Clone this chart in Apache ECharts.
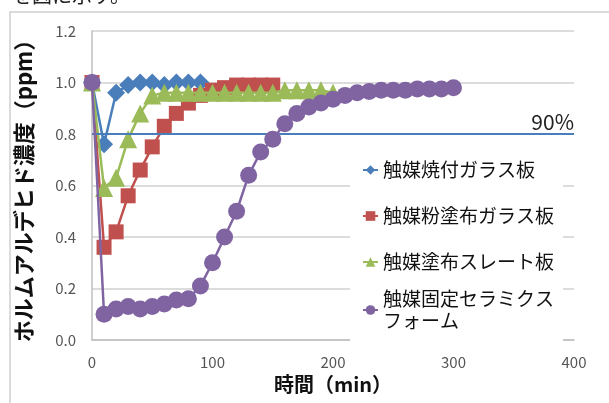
<!DOCTYPE html>
<html><head><meta charset="utf-8">
<script src="https://cdn.jsdelivr.net/npm/echarts@6/dist/echarts.min.js"></script>
<style>html,body{margin:0;padding:0;background:#fff}#c{width:609px;height:403px}</style>
</head><body><div id="c"></div>
<script>
// ---- data ----
const seriesNames = ['触媒焼付ガラス板','触媒粉塗布ガラス板','触媒塗布スレート板','触媒固定セラミクスフォーム'];
const blueMin = [0,10,20,30,40,50,60,70,80,90];
const blueVal = [1.00,0.76,0.96,0.99,1.00,1.00,0.99,1.00,1.00,1.00];
const redMin = [0,10,20,30,40,50,60,70,80,90,100,110,120,130,140,150];
const redVal = [1.00,0.36,0.42,0.56,0.66,0.75,0.83,0.88,0.92,0.95,0.97,0.98,0.99,0.99,0.99,0.99];
const greenMin = [0,10,20,30,40,50,60,70,80,90,100,110,120,130,140,150,160,170,180,190,200];
const greenVal = [1.00,0.59,0.63,0.78,0.88,0.95,0.96,0.96,0.96,0.96,0.96,0.96,0.96,0.96,0.96,0.96,0.97,0.97,0.97,0.97,0.96];
const purpleMin = [0,10,20,30,40,50,60,70,80,90,100,110,120,130,140,150,160,170,180,190,200,210,220,230,240,250,260,270,280,290,300];
const purpleVal = [1.00,0.10,0.12,0.13,0.12,0.13,0.14,0.155,0.16,0.21,0.30,0.40,0.50,0.64,0.73,0.78,0.84,0.88,0.905,0.92,0.935,0.95,0.96,0.965,0.97,0.97,0.97,0.975,0.975,0.975,0.98];
const thresholdValue = 0.8;
const thresholdLabel = '90%';
const xTicks = [0,100,200,300,400];
const yTicks = [0,0.2,0.4,0.6,0.8,1.0,1.2];
const xName = '時間（min）';
const yName = 'ホルムアルデヒド濃度（ppm）';
const topText = 'を図に示す。';

const zip = (a,b) => a.map((v,i)=>[v,b[i]]);
const colors = ['#4a7ebb','#c0504d','#9bbb59','#8064a2'];
const symbols = ['diamond','rect','triangle','circle'];
const sizes = [18,15,18,17];
const datas = [zip(blueMin,blueVal), zip(redMin,redVal), zip(greenMin,greenVal), zip(purpleMin,purpleVal)];
const FONT = '"Noto Sans CJK JP", "Noto Sans", sans-serif';

const series = seriesNames.map((n,i)=>({
  name:n, type:'line', data:datas[i], symbol:symbols[i], symbolSize:sizes[i],
  color:colors[i], lineStyle:{width:2.5,color:colors[i]}, itemStyle:{color:colors[i]},
  z: 2+i, animation:false
}));
series.push({
  name:'threshold', type:'line', data:[], animation:false,
  markLine:{symbol:'none', silent:true, lineStyle:{color:'#4a7ebb', width:2, type:'solid'},
    label:{show:true, position:'insideEndTop', formatter:thresholdLabel, color:'#222', fontSize:21, fontFamily:FONT, distance:[0,1]},
    data:[{yAxis:thresholdValue}]}
});

const legendText = {fontSize:19, color:'#111', fontFamily:FONT, lineHeight:22};
const chart = echarts.init(document.getElementById('c'));
chart.setOption({
  animation:false,
  textStyle:{fontFamily:FONT},
  grid:{left:92, right:35, top:31, bottom:63},
  xAxis:{type:'value', min:xTicks[0], max:xTicks[xTicks.length-1], interval:100,
    name:xName, nameLocation:'middle', nameGap:33,
    nameTextStyle:{fontSize:20, fontWeight:'bold', color:'#111', fontFamily:FONT},
    axisLine:{show:true, lineStyle:{color:'#bfbfbf', width:1.5}}, axisTick:{show:false},
    axisLabel:{color:'#555', fontSize:15, margin:15, fontFamily:FONT},
    splitLine:{show:false}},
  yAxis:{type:'value', min:yTicks[0], max:yTicks[yTicks.length-1], interval:0.2,
    name:yName, nameLocation:'middle', nameGap:57,
    nameTextStyle:{fontSize:22, fontWeight:'bold', color:'#111', fontFamily:FONT},
    axisLine:{show:true, lineStyle:{color:'#bfbfbf', width:1.5}}, axisTick:{show:false},
    axisLabel:{color:'#555', fontSize:15, margin:16, fontFamily:FONT, formatter:v=>v.toFixed(1)},
    splitLine:{show:true, lineStyle:{color:'#d0d0d0', width:1.5}}},
  legend:[
    {orient:'vertical', left:350, top:149, height:140, padding:[10,9,4,12], itemGap:24,
     backgroundColor:'#fff', itemWidth:15, itemHeight:12,
     data:seriesNames.slice(0,3), textStyle:legendText},
    {orient:'vertical', left:350, top:277, height:100, padding:[0,9,8,12],
     backgroundColor:'#fff', itemWidth:15, itemHeight:12,
     data:[{name:seriesNames[3], textStyle:{padding:[22,0,0,0]}}],
     formatter:n => '触媒固定セラミクス\nフォーム', textStyle:legendText}
  ],
  graphic:[
    {type:'polyline', silent:true, shape:{points:[[10,403],[10,12],[609,12]]}, style:{stroke:'#cfcfcf', lineWidth:1.5, fill:null}},
    {type:'text', left:12, top:-15, silent:true, style:{text:topText, font:'20px "Noto Sans CJK JP"', fill:'#222'}}
  ],
  series:series
});
</script></body></html>
